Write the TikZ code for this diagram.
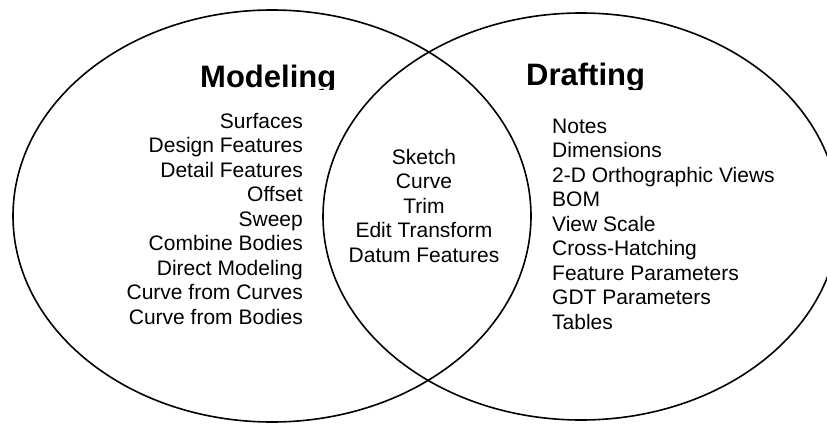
\documentclass[tikz,border=0pt]{standalone}
\usepackage{fontspec}
\setmainfont{Liberation Sans}
\usetikzlibrary{shapes.geometric}

\begin{document}
\begin{tikzpicture}[x=1pt, y=-1pt,
    setellipse/.style={draw, ellipse, line width=1.6pt, inner sep=0pt, outer sep=0pt},
    settitle/.style={font=\fontsize{31}{31}\selectfont\bfseries, inner sep=0pt, anchor=base west},
    item/.style={font=\fontsize{21}{24.5}\selectfont, inner sep=0pt}]
    \useasboundingbox (0,0) rectangle (827,423);
    \clip (0,0) rectangle (827,423);

    % Insiemi
    \node[setellipse, minimum width=518pt, minimum height=412pt] (modeling) at (272,216) {};
    \node[setellipse, minimum width=516pt, minimum height=407pt] (drafting) at (581,216.5) {};

    % Titoli
    \begin{scope}
        \clip (0,0) rectangle (827,89);
        \node[settitle] (title_mod) at (200,87) {Modeling};
        \node[settitle] (title_draft) at (526,85) {Drafting};
    \end{scope}

    % Solo Modeling
    \foreach \txt [count=\i from 0] in {Surfaces, Design Features, Detail Features, Offset, Sweep,
        Combine Bodies, Direct Modeling, Curve from Curves, Curve from Bodies}
        \node[item, anchor=base east] (mod\i) at (303,{128+24.5*\i}) {\txt};

    % Comuni
    \foreach \txt [count=\i from 0] in {Sketch, Curve, Trim, Edit Transform, Datum Features}
        \node[item, anchor=base] (common\i) at (424,{164+24.5*\i}) {\txt};

    % Solo Drafting
    \foreach \txt [count=\i from 0] in {Notes, Dimensions, 2-D Orthographic Views, BOM, View Scale,
        Cross-Hatching, Feature Parameters, GDT Parameters, Tables}
        \node[item, anchor=base west] (draft\i) at (552,{133+24.5*\i}) {\txt};
\end{tikzpicture}
\end{document}
